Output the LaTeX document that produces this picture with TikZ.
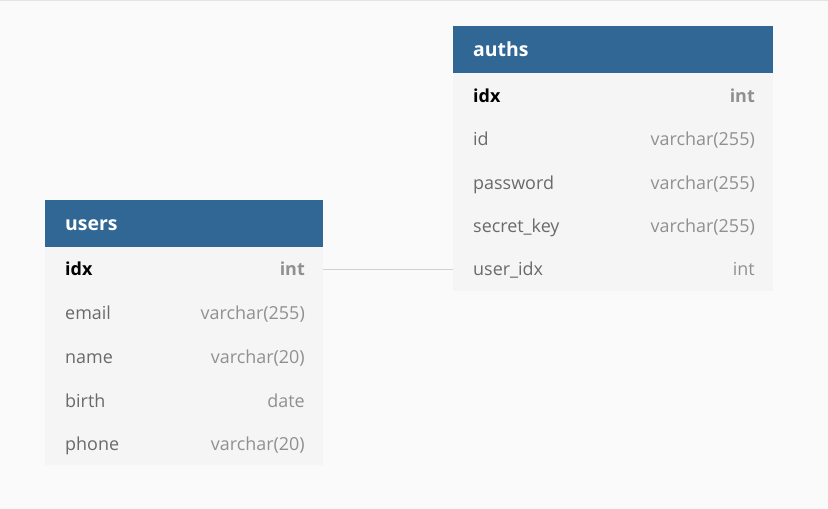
\documentclass[tikz,border=0pt]{standalone}
\usepackage{fontspec}
\setmainfont{Open Sans}
\definecolor{bgc}{HTML}{FAFAFA}
\definecolor{hdr}{HTML}{316794}
\definecolor{rowbg}{HTML}{F5F5F5}
\definecolor{fname}{HTML}{6A6A6A}
\definecolor{ftype}{HTML}{909090}
\definecolor{conn}{HTML}{D0D0D0}
\begin{document}
\begin{tikzpicture}[x=1bp,y=-1bp,
  hdrbox/.style={fill=hdr,draw=none},
  rowbox/.style={fill=rowbg,draw=none},
  htext/.style={anchor=base west,text=white,font=\fontsize{19.5}{22}\selectfont\bfseries,inner sep=0},
  ntext/.style={anchor=base west,text=fname,font=\fontsize{18}{21}\selectfont,inner sep=0},
  ttext/.style={anchor=base east,text=ftype,font=\fontsize{18}{21}\selectfont,inner sep=0},
  pktext/.style={anchor=base west,text=black,font=\fontsize{18}{21}\selectfont\bfseries,inner sep=0},
  pktype/.style={anchor=base east,text=ftype,font=\fontsize{18}{21}\selectfont\bfseries,inner sep=0},
  link/.style={draw=conn,line width=1.2bp}]
\useasboundingbox (0,0) rectangle (828,509);
\fill[bgc] (0,0) rectangle (828,509);
\draw[conn!60,line width=0.8bp] (0,0.4) -- (828,0.4);
% users table
\fill[rowbox] (45,247) rectangle (323,465);
\fill[hdrbox] (45,200) rectangle (323,247);
\node[htext] (uh) at (65,231) {users};
\node[pktext] (u1) at (65,276) {idx};
\node[pktype] (u1t) at (305,276) {int};
\node[ntext] (u2) at (65,320) {email};
\node[ttext] (u2t) at (305,320) {varchar(255)};
\node[ntext] (u3) at (65,363) {name};
\node[ttext] (u3t) at (305,363) {varchar(20)};
\node[ntext] (u4) at (65,407) {birth};
\node[ttext] (u4t) at (305,407) {date};
\node[ntext] (u5) at (65,450) {phone};
\node[ttext] (u5t) at (305,450) {varchar(20)};
% auths table
\fill[rowbox] (453,73) rectangle (773,291);
\fill[hdrbox] (453,26) rectangle (773,73);
\node[htext] (ah) at (473,57) {auths};
\node[pktext] (a1) at (473,103) {idx};
\node[pktype] (a1t) at (755,103) {int};
\node[ntext] (a2) at (473,146) {id};
\node[ttext] (a2t) at (755,146) {varchar(255)};
\node[ntext] (a3) at (473,190) {password};
\node[ttext] (a3t) at (755,190) {varchar(255)};
\node[ntext] (a4) at (473,233) {secret\_key};
\node[ttext] (a4t) at (755,233) {varchar(255)};
\node[ntext] (a5) at (473,276) {user\_idx};
\node[ttext] (a5t) at (755,276) {int};
% connector
\coordinate (ua) at (323,269.5);
\coordinate (ab) at (453,269.5);
\draw[link] (ua) -- (ab);
\end{tikzpicture}
\end{document}
